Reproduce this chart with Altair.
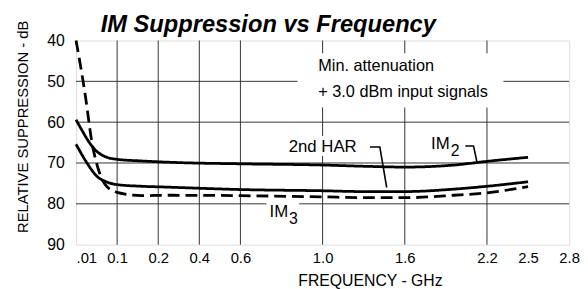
import altair as alt
import pandas as pd

# ---- data ----
freq_ticks = [0.01, 0.1, 0.2, 0.4, 0.6, 1.0, 1.6, 2.2, 2.5, 2.8]
tick_slots = [0, 1, 2, 3, 4, 6, 8, 10, 11, 12]   # chart's irregular frequency axis
grid_freqs = [0.1, 0.2, 0.4, 0.6, 1.0, 1.6, 2.2]
db_ticks = [40, 50, 60, 70, 80, 90]
grid_db = [50, 60, 70, 80]

im2_freq = [0.01, 0.023, 0.038, 0.052, 0.066, 0.08, 0.1, 0.16, 0.3, 0.6, 1.0, 1.3, 1.6, 1.96, 2.2, 2.5]
im2_db = [59.4, 62.0, 64.8, 66.8, 68.0, 68.7, 69.1, 69.5, 69.9, 70.2, 70.5, 70.8, 71.0, 70.5, 69.6, 68.6]

har_freq = [0.01, 0.034, 0.056, 0.074, 0.1, 0.16, 0.24, 0.6, 1.0, 1.3, 1.6, 1.96, 2.2, 2.5]
har_db = [65.4, 70.0, 73.3, 74.5, 75.3, 75.7, 75.9, 76.5, 76.8, 77.0, 77.0, 76.4, 75.7, 74.6]

im3_freq = [0.01, 0.031, 0.044, 0.059, 0.074, 0.1, 0.16, 0.24, 0.6, 1.0, 1.3, 1.6, 1.96, 2.2, 2.5]
im3_db = [40.0, 54.0, 64.4, 71.6, 75.3, 77.2, 78.0, 77.9, 78.0, 78.3, 78.5, 78.5, 77.9, 77.3, 75.8]

title_text = "IM Suppression vs Frequency"
y_title = "RELATIVE SUPPRESSION - dB"
x_title = "FREQUENCY - GHz"

note_lines = ["Min. attenuation", "+ 3.0 dBm input signals"]
note_f = [0.979, 0.979]
note_d = [47.5, 53.9]

# label boxes (f, f2, d, d2)
box_f = [0.878, 0.794, 1.761, 0.726]
box_f2 = [2.32, 1.322, 2.010, 0.886]
box_d = [43.1, 63.4, 62.9, 79.7]
box_d2 = [56.4, 68.3, 69.2, 85.7]

label_text = ["2nd HAR", "IM", "IM"]
label_f = [0.835, 1.792, 0.742]
label_d = [67.4, 66.6, 83.3]
sub_text = ["2", "3"]
sub_f = [1.936, 0.837]
sub_d = [68.4, 84.9]

ptr_id = ["har", "har", "har", "im2", "im2", "im2"]
ptr_f = [1.346, 1.418, 1.468, 2.042, 2.102, 2.126]
ptr_d = [66.1, 66.1, 76.0, 65.85, 65.85, 69.64]

# ---- layout ----
W, H = 500, 207
FONT = "Liberation Sans, Arial, Helvetica, sans-serif"

xscale = alt.Scale(domain=freq_ticks, range=[W * s / 12 for s in tick_slots], nice=False, zero=False)
yscale = alt.Scale(domain=[40, 90], reverse=True, nice=False, zero=False)

X = alt.X(
    "f:Q", scale=xscale,
    axis=alt.Axis(
        values=freq_ticks, grid=False, ticks=False, tickSize=0, domain=False,
        labelExpr="datum.value < 0.05 ? '.01' : format(datum.value, '.1f')",
        labelFont=FONT, labelFontSize=15, labelPadding=6, labelColor="#000",
        labelAlign={"condition": {"test": "datum.value < 0.05", "value": "left"}, "value": "center"},
        title=x_title, titleFont=FONT, titleFontSize=16, titleFontWeight="normal",
        titleColor="#000", titleX=298, titleY=41, titleBaseline="alphabetic",
        titleAlign="center",
    ),
)
Y = alt.Y(
    "d:Q", scale=yscale,
    axis=alt.Axis(
        values=db_ticks, grid=False, ticks=False, tickSize=0, domain=False,
        labelFont=FONT, labelFontSize=16, labelPadding=12, labelColor="#000",
        title=y_title, titleFont=FONT, titleFontSize=15, titleFontWeight="normal",
        titleColor="#000", titleX=-49, titleY=87, titleBaseline="alphabetic",
        titleAlign="center", titleAngle=270,
    ),
)

series = pd.concat([
    pd.DataFrame({"f": im2_freq, "d": im2_db, "s": "IM2"}),
    pd.DataFrame({"f": har_freq, "d": har_db, "s": "2nd HAR"}),
    pd.DataFrame({"f": im3_freq, "d": im3_db, "s": "IM3"}),
])

vgrid = alt.Chart(pd.DataFrame({"f": grid_freqs})).mark_rule(color="#333", strokeWidth=1).encode(x=X)
hgrid = alt.Chart(pd.DataFrame({"d": grid_db})).mark_rule(color="#333", strokeWidth=1).encode(y=Y)

lines = alt.Chart(series).mark_line(color="#000", strokeWidth=2.8, interpolate="monotone").encode(
    x=X, y=Y,
    detail="s:N",
    strokeDash=alt.StrokeDash(
        "s:N",
        scale=alt.Scale(domain=["IM2", "2nd HAR", "IM3"], range=[[1, 0], [1, 0], [12, 6]]),
        legend=None,
    ),
)

boxes = alt.Chart(pd.DataFrame({"f": box_f, "f2": box_f2, "d": box_d, "d2": box_d2})).mark_rect(
    color="#fff"
).encode(x=X, x2="f2:Q", y=Y, y2="d2:Q")

pointers = alt.Chart(pd.DataFrame({"f": ptr_f, "d": ptr_d, "p": ptr_id})).mark_line(
    color="#000", strokeWidth=1.6
).encode(x=X, y=Y, detail="p:N")

note = alt.Chart(pd.DataFrame({"f": note_f, "d": note_d, "t": note_lines})).mark_text(
    align="left", baseline="alphabetic", font=FONT, fontSize=16.5, color="#000"
).encode(x=X, y=Y, text="t:N")

labels = alt.Chart(pd.DataFrame({"f": label_f, "d": label_d, "t": label_text})).mark_text(
    align="left", baseline="alphabetic", font=FONT, fontSize=17, color="#000"
).encode(x=X, y=Y, text="t:N")

subs = alt.Chart(pd.DataFrame({"f": sub_f, "d": sub_d, "t": sub_text})).mark_text(
    align="left", baseline="alphabetic", font=FONT, fontSize=16, color="#000"
).encode(x=X, y=Y, text="t:N")

title = alt.Chart(pd.DataFrame({"t": [title_text]})).mark_text(
    align="left", baseline="alphabetic", font=FONT, fontSize=24, fontWeight="bold",
    fontStyle="italic", color="#000"
).encode(x=alt.value(25), y=alt.value(-9), text="t:N")

chart = alt.layer(vgrid, hgrid, lines, boxes, pointers, note, labels, subs, title).properties(
    width=W, height=H,
    autosize=alt.AutoSizeParams(type="none"),
    padding={"left": 69, "top": 31, "right": 11, "bottom": 43},
).configure_view(
    fill="#e5e5e5", stroke="#000", strokeWidth=1.6
).configure(background="#fff")

chart.save("out.html", embed_options={"renderer": "svg", "actions": False})
